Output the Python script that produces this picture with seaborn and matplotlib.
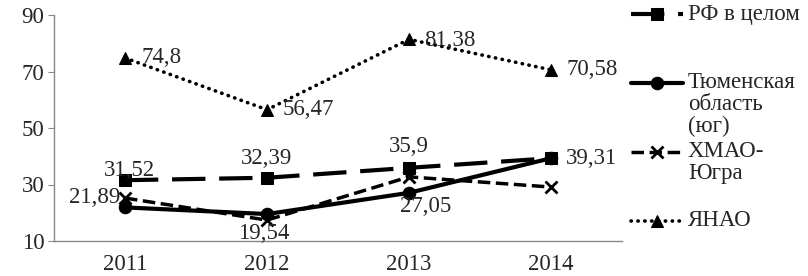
import numpy as np
import pandas as pd
import matplotlib
matplotlib.use('Agg')
import matplotlib.pyplot as plt
import seaborn as sns

years = ['2011', '2012', '2013', '2014']
rf = [31.52, 32.39, 35.9, 39.31]
tyumen = [21.89, 19.54, 27.05, 39.31]
hmao = [25.2, 17.4, 32.7, 29.1]
yanao = [74.8, 56.47, 81.38, 70.58]

names = ['РФ в целом', 'Тюменская\nобласть\n(юг)', 'ХМАО-\nЮгра', 'ЯНАО']
series = [rf, tyumen, hmao, yanao]

sns.set_style('white')
plt.rcParams['font.family'] = ['Liberation Serif', 'DejaVu Serif']

df = pd.DataFrame({
    'x': np.tile(np.arange(len(years)), len(names)),
    'value': np.concatenate(series),
    'series': np.repeat(names, len(years)),
})

fig = plt.figure(figsize=(8.08, 2.76), dpi=100)
ax = fig.add_axes([54 / 808, 1 - 241 / 276, 568 / 808, 226 / 276])

styles = [
    dict(dashes=(8, 3.3), marker='s', lw=3, ms=9),
    dict(dashes=None, marker='o', lw=3, ms=9),
    dict(dashes=(3.6, 1.6), marker='x', lw=2.5, ms=8, mew=2),
    dict(dashes=(0.1, 1.8), marker='^', lw=2.6, ms=9),
]
handles = []
for name, st in zip(names, styles):
    sub = df[df['series'] == name]
    st = dict(st)
    d = st.pop('dashes')
    sns.lineplot(data=sub, x='x', y='value', ax=ax, color='black',
                 markeredgecolor='black', label=name, **st)
    line = ax.lines[-1]
    if d:
        line.set_dashes(d)
    line.set_dash_capstyle('round' if d == (0.1, 1.8) else 'butt')
    handles.append(line)

ax.get_legend().remove()

fs = 16.5


def lab(vals, idx, dx, dy, ha='left'):
    # подписи данных
    for i, ox, oy in zip(idx, dx, dy):
        ax.annotate(f'{vals[i]:g}'.replace('.', ','), (i, vals[i]),
                    xytext=(ox, oy), textcoords='offset points', ha=ha,
                    va='center', fontsize=fs)


lab(yanao, [0, 1, 2, 3], [12, 11, 11, 11], [0, 0, -1, 0])
lab(rf, [0, 1, 2], [3, 0, 0], [7, 14, 15], ha='center')
lab(tyumen, [0], [-3], [7], ha='right')
lab(tyumen, [1, 2], [-2, 12], [-14, -10], ha='center')
lab(tyumen, [3], [11], [0])

ax.set_xlim(-0.5, 3.5)
ax.set_ylim(10, 90)
ax.set_yticks([10, 30, 50, 70, 90])
ax.set_xticks(range(len(years)))
ax.set_xticklabels(years)
ax.set_xticks(np.arange(-0.5, 4, 1), minor=True)
ax.tick_params(axis='x', which='major', length=0, labelsize=fs, pad=9)
ax.tick_params(axis='x', which='minor', length=5, color='#888888', width=1, direction='out')
ax.tick_params(axis='y', length=4, color='#888888', labelsize=fs, pad=3, left=True)
ax.set_xlabel('')
ax.set_ylabel('')
for s in ['top', 'right']:
    ax.spines[s].set_visible(False)
for s in ['left', 'bottom']:
    ax.spines[s].set_color('#888888')
    ax.spines[s].set_linewidth(1)

# легенда: маркеры равномерно, подписи начинаются у маркера
leg = fig.legend(handles=handles, labels=[''] * 4, loc='upper left',
                 bbox_to_anchor=(620 / 808, 1 + 5 / 276), frameon=False,
                 fontsize=fs, handlelength=2.25, handletextpad=0,
                 labelspacing=2.08, borderpad=0)
fig.canvas.draw()
r = fig.canvas.get_renderer()
half_line = 0.47 * fs * 100 / 72 / 276
for h, name in zip(leg.legend_handles, names):
    bb = h.get_window_extent(r)
    yc = (bb.y0 + bb.y1) / 2 / fig.bbox.height
    fig.text(688 / 808, yc + half_line, name,
             ha='left', va='top', fontsize=fs, linespacing=1.05)

fig.savefig('out.png', dpi=100)
